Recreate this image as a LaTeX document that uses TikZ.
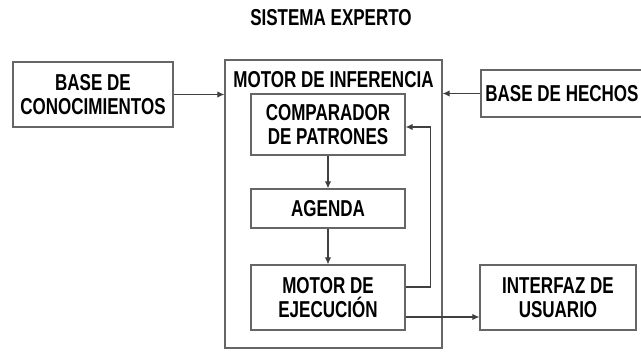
\documentclass[tikz,border=0pt]{standalone}
\usepackage{fontspec}
\setmainfont{Liberation Sans}[FakeStretch=0.74]
\usetikzlibrary{arrows.meta}
\begin{document}
\begin{tikzpicture}[x=1pt,y=-1pt,
  txt/.style={font=\bfseries\fontsize{23}{24.5}\selectfont, text=black},
  box/.style={txt, draw=black!60, line width=1.3pt, inner sep=0pt, align=center},
  lbl/.style={txt, inner sep=0pt, align=center},
  conn/.style={draw=black!75, line width=1.2pt, -{Latex[length=7pt,width=6.5pt]}}]
\clip (0,0) rectangle (641,353);
\fill[white] (0,0) rectangle (641,353);
\node[lbl] (title) at (331,18) {SISTEMA EXPERTO};
\node[box, minimum width=160pt, minimum height=65pt] (bc) at (93,94.5) {BASE DE\\CONOCIMIENTOS};
\node[box, minimum width=217pt, minimum height=288pt] (mi) at (333.5,204) {};
\node[lbl] (milbl) at (333.5,80) {MOTOR DE INFERENCIA};
\node[box, minimum width=154pt, minimum height=61pt] (cp) at (328,124.5) {COMPARADOR\\DE PATRONES};
\node[box, minimum width=154pt, minimum height=39pt] (ag) at (328,208.5) {AGENDA};
\node[box, minimum width=154pt, minimum height=65pt] (ej) at (328,297.5) {MOTOR DE\\EJECUCIÓN};
\node[box, minimum width=162pt, minimum height=47pt] (bh) at (562,93.5) {BASE DE HECHOS};
\node[box, minimum width=156pt, minimum height=65pt] (ui) at (558,297.5) {INTERFAZ DE\\USUARIO};
\draw[conn] (bc.east) -- (mi.west |- bc.east);
\draw[conn] (bh.west) -- (mi.east |- bh.west);
\draw[conn] (cp.south) -- (ag.north);
\draw[conn] (ag.south) -- (ej.north);
\draw[conn] ([yshift=10.5pt]ej.east) -- ++(25,0) |- ([yshift=-2.5pt]cp.east);
\draw[conn] ([yshift=-19.5pt]ej.east) coordinate (o) -- (o -| ui.west);
\end{tikzpicture}
\end{document}
